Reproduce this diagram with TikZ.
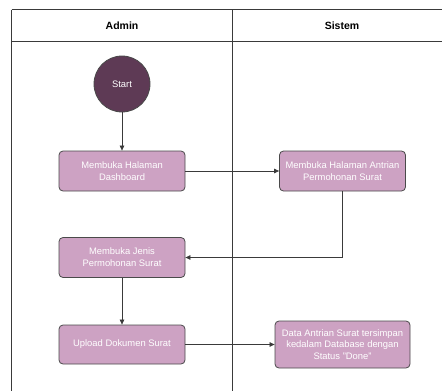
\documentclass[tikz,border=0pt]{standalone}
\usepackage{fontspec}
\setmainfont{Liberation Sans}
\usetikzlibrary{arrows.meta,positioning}
\definecolor{startfill}{HTML}{5E3A55}
\definecolor{boxfill}{HTML}{CDA2C3}
\definecolor{edgegray}{HTML}{4A4A4A}
\definecolor{linegray}{HTML}{3A3A3A}
\begin{document}
\begin{tikzpicture}[x=1pt,y=-1pt,
  actbox/.style={draw=edgegray,line width=0.8pt,fill=boxfill,rounded corners=4pt,
    minimum width=126pt,minimum height=40pt,align=center,text=white,
    font=\fontsize{9.4}{11.8}\selectfont,inner sep=1pt},
  startnode/.style={circle,draw=edgegray,line width=0.8pt,fill=startfill,minimum size=56pt,
    text=white,font=\fontsize{9.4}{11}\selectfont,inner sep=0pt},
  lane/.style={draw=linegray,line width=0.7pt},
  hdr/.style={font=\fontsize{10.5}{12}\selectfont\bfseries,text=black},
  flow/.style={draw=linegray,line width=0.7pt,-{Triangle[length=5pt,width=4.5pt]}}]
\useasboundingbox (0,0) rectangle (442,391);
% swimlane frame
\draw[lane] (11.5,9.5) -- (442,9.5);
\draw[lane] (11.5,41) -- (442,41);
\draw[lane] (11.5,9.5) -- (11.5,391);
\draw[lane] (232,9.5) -- (232,391);
\node[hdr] (hadmin) at (122,26) {Admin};
\node[hdr] (hsistem) at (342,26) {Sistem};
% nodes
\node[startnode] (start) at (122,84) {Start};
\node[actbox] (b1) at (122,171) {Membuka Halaman\\Dashboard};
\node[actbox] (b2) at (342.5,171) {Membuka Halaman Antrian\\Permohonan Surat};
\node[actbox] (b3) at (122,257.5) {Membuka Jenis\\Permohonan Surat};
\node[actbox,minimum height=39pt] (b4) at (122,344.5) {Upload Dokumen Surat};
\node[actbox,minimum width=135pt,minimum height=47pt] (b5) at (342.5,344.5) {Data Antrian Surat tersimpan\\kedalam Database dengan\\Status "Done"};
% connectors
\draw[flow] (start) -- (b1);
\draw[flow] (b1) -- (b2);
\draw[flow] (b2.south) |- (b3.east);
\draw[flow] (b3) -- (b4);
\draw[flow] (b4) -- (b5);
\end{tikzpicture}
\end{document}
